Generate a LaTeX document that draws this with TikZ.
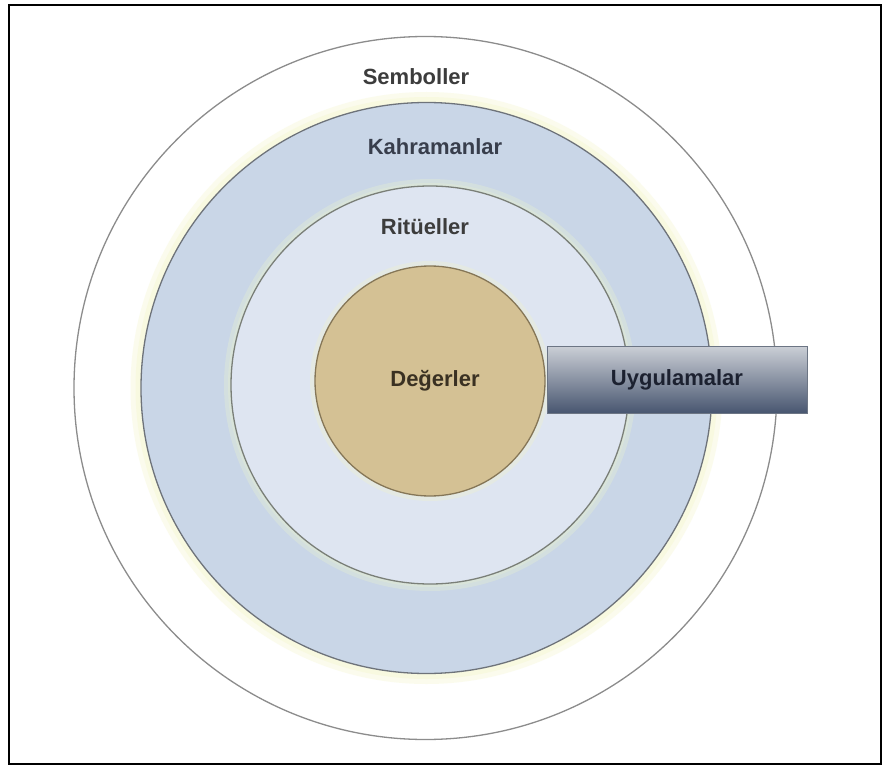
\documentclass[tikz,border=0pt]{standalone}
\usepackage{fontspec}
\setmainfont{Liberation Sans}
\usetikzlibrary{shadings}

\definecolor{ringline}{HTML}{8C8C8C}
\definecolor{heroline}{HTML}{6E737A}
\definecolor{herofill}{HTML}{C9D6E7}
\definecolor{ritefill}{HTML}{DEE5F1}
\definecolor{ritelne}{HTML}{7A7F78}
\definecolor{valfill}{HTML}{D4C194}
\definecolor{valline}{HTML}{857657}
\definecolor{glowcol}{HTML}{F2F5C4}
\definecolor{glowin}{HTML}{E6F0D2}
\definecolor{boxtop}{HTML}{CBCFD6}
\definecolor{boxbot}{HTML}{485670}
\definecolor{boxline}{HTML}{6C7584}
\definecolor{txtgray}{HTML}{3C3C3C}
\definecolor{txthero}{HTML}{383E4C}
\definecolor{txtval}{HTML}{3A3122}
\definecolor{txtbox}{HTML}{1C2130}

\tikzset{
  layer/.style={circle, inner sep=0pt, line width=1.3pt},
  lbl/.style={font=\fontsize{22}{26}\selectfont\bfseries, inner sep=0pt},
  glow/.style={fill=glowcol, opacity=0.3},
  glowinner/.style={fill=glowin, opacity=0.35},
}

\begin{document}
\begin{tikzpicture}[x=1pt,y=-1pt]
  \useasboundingbox (0,0) rectangle (883,767);
  \fill[white] (0,0) rectangle (883,767);

  % frame
  \draw[black, line width=2.2pt] (9,5) rectangle (881,764);

  % outer ring: symbols
  \node[layer, draw=ringline, fill=white, minimum size=703] (symbols) at (425.5,388) {};

  % heroes ring with its soft halo
  \fill[glow] (426.5,388) circle (296);
  \fill[glow] (426.5,388) circle (291);
  \node[layer, draw=heroline, fill=herofill, minimum size=571] (heroes) at (426.5,388) {};

  % rituals ring
  \fill[glowinner] (430,385) circle (206);
  \fill[glowinner] (430,385) circle (202);
  \node[layer, draw=ritelne, fill=ritefill, minimum size=398] (rituals) at (430,385) {};

  % core: values
  \fill[glow] (430,381) circle (120);
  \node[layer, draw=valline, fill=valfill, minimum size=230] (values) at (430,381) {};

  % practices bar
  \node[draw=boxline, line width=0.8pt, top color=boxtop, bottom color=boxbot,
        minimum width=260, minimum height=67, inner sep=0pt] (practices) at (677,379.5) {};

  % labels
  \node[lbl, text=txtgray] (tsym) at (416,77) {Semboller};
  \node[lbl, text=txthero] (thero) at (435,147) {Kahramanlar};
  \node[lbl, text=txtgray] (trite) at (425,227) {Ritüeller};
  \node[lbl, text=txtval] (tval) at (435,381) {Değerler};
  \node[lbl, text=txtbox] (tprac) at (practices.center) {Uygulamalar};
\end{tikzpicture}
\end{document}
